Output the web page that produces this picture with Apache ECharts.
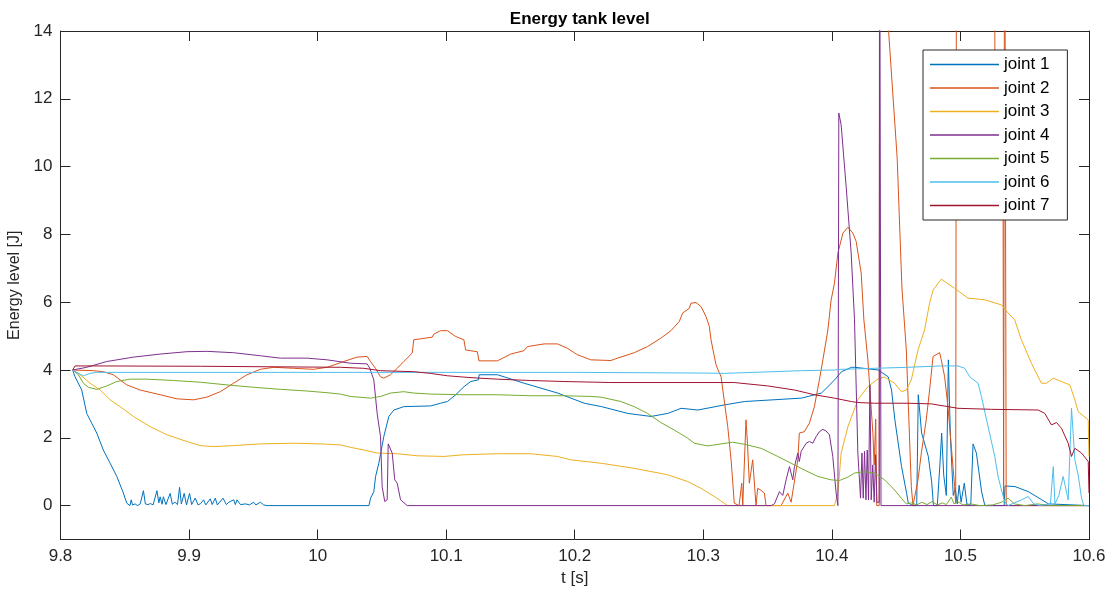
<!DOCTYPE html>
<html>
<head>
<meta charset="utf-8">
<script src="https://cdn.jsdelivr.net/npm/echarts@6/dist/echarts.min.js"></script>
<style>
  html, body { margin: 0; padding: 0; background: #ffffff; }
  #chart { width: 1112px; height: 590px; }
</style>
</head>
<body>
<div id="chart"></div>
<script>
// Energy stored in each joint's tank, [time in s, energy in J]
const joint1 = [
  [9.8095,4.0],[9.8113,3.8],[9.8165,3.41],[9.8204,2.72],[9.8243,2.43],[9.8282,2.14],[9.8333,1.64],[9.8386,1.25],[9.8438,0.86],[9.8489,0.37],[9.8516,0.07],
  [9.852,0.02],[9.854,0],[9.855,0.17],[9.856,0.02],[9.858,0.05],[9.860,0],[9.862,0.05],[9.8645,0.44],[9.866,0.05],[9.868,0.03],[9.870,0.06],[9.872,0.02],
  [9.875,0.44],[9.8765,0.08],[9.8775,0.26],[9.879,0.04],[9.880,0.26],[9.882,0.03],[9.8853,0.36],[9.887,0.04],[9.889,0.1],[9.891,0.03],[9.8926,0.54],
  [9.894,0.05],[9.8962,0.36],[9.898,0.02],[9.9004,0.36],[9.902,0.03],[9.9048,0.22],[9.907,0.02],[9.909,0.06],[9.9113,0.17],[9.913,0.02],[9.9165,0.2],
  [9.918,0.03],[9.9204,0.22],[9.922,0.02],[9.9264,0.22],[9.929,0.03],[9.931,0.1],[9.9347,0.17],[9.936,0.03],[9.9373,0.17],[9.940,0.03],[9.944,0.05],
  [9.947,0.02],[9.9502,0.1],[9.952,0.02],[9.9555,0.1],[9.958,0.02],[9.9607,0],[10.0399,0],
  [10.0412,0.22],[10.0437,0.41],[10.0451,0.86],[10.0476,1.25],[10.0515,2.04],[10.0554,2.63],[10.0593,2.82],[10.0671,2.92],[10.0879,2.94],[10.0957,3.02],
  [10.1009,3.07],[10.1074,3.27],[10.1139,3.51],[10.1191,3.66],[10.1251,3.71],[10.1256,3.86],[10.1399,3.86],[10.1606,3.61],[10.1867,3.32],[10.2074,3.02],
  [10.2208,2.92],[10.2412,2.72],[10.2593,2.63],[10.2724,2.72],[10.2827,2.87],[10.2958,2.82],[10.3165,2.97],[10.3321,3.07],[10.3763,3.17],[10.3919,3.32],
  [10.4022,3.71],[10.4075,3.95],[10.4153,4.08],[10.4178,4.08],[10.4360,4.0],[10.4438,3.8],[10.4464,3.41],[10.4490,2.53],[10.4542,1.15],[10.4581,0.37],
  [10.4594,0.08],[10.4630,0],[10.4660,0],[10.4672,3.27],[10.4698,2.14],[10.4750,1.45],[10.4776,0.71],[10.4790,0],[10.4820,0],[10.4840,1.2],[10.4854,2.14],
  [10.4870,0.9],[10.4890,0.3],[10.4906,4.3],[10.4922,2.04],[10.4944,0.3],[10.4960,0.5],[10.4975,0.05],[10.4990,0.6],[10.5005,0.1],[10.5030,0.66],
  [10.5050,0.05],[10.5080,0],[10.5098,1.82],[10.5124,1.55],[10.5165,0.4],[10.5190,0],[10.5340,0],[10.5347,0.58],[10.5425,0.56],[10.5529,0.41],
  [10.5633,0.17],[10.5685,0.05],[10.6,0]
];
const joint2 = [
  [9.8095,4.0],[9.8256,3.98],[9.8333,3.95],[9.8411,3.86],[9.8516,3.56],[9.8619,3.41],[9.8775,3.27],[9.8905,3.15],[9.9035,3.12],[9.9139,3.2],[9.9243,3.36],
  [9.9346,3.61],[9.9451,3.86],[9.9554,4.02],[9.9658,4.08],[9.9814,4.05],[9.9969,4.02],[10.0074,4.08],[10.0203,4.25],[10.0307,4.38],[10.0385,4.4],
  [10.0411,4.25],[10.0450,4.05],[10.0489,3.8],[10.0515,3.76],[10.0567,3.86],[10.0619,4.05],[10.0670,4.25],[10.0736,4.5],[10.0748,4.89],[10.0892,4.97],
  [10.0904,5.06],[10.0956,5.16],[10.1009,5.16],[10.1073,4.99],[10.1138,4.89],[10.1151,4.59],[10.1242,4.54],[10.1255,4.27],[10.1398,4.27],[10.1502,4.47],
  [10.1605,4.57],[10.1632,4.69],[10.1761,4.77],[10.1865,4.77],[10.1943,4.64],[10.2021,4.45],[10.2125,4.3],[10.2281,4.28],[10.2333,4.35],[10.2462,4.51],
  [10.2566,4.69],[10.2670,4.94],[10.2748,5.16],[10.2813,5.43],[10.2839,5.68],[10.2891,5.82],[10.2904,5.97],[10.2943,5.99],[10.2982,5.87],[10.3021,5.58],
  [10.3047,5.28],[10.3060,4.89],[10.3099,4.15],[10.3138,3.8],[10.3190,2.33],[10.3216,1.35],[10.3241,0.07],[10.3278,0],[10.3299,0.66],[10.3307,0],
  [10.3332,2.53],[10.3344,1.8],[10.3358,0.66],[10.3384,1.35],[10.3410,0],[10.3423,0.51],[10.3449,0.45],[10.3475,0.37],[10.3488,0],[10.3605,0],
  [10.3657,0.37],[10.3683,0.1],[10.3735,1.35],[10.3747,2.14],[10.3786,2.18],[10.3825,2.43],[10.3864,2.92],[10.3903,3.71],[10.3930,4.3],[10.3969,5.18],
  [10.3994,6.06],[10.4020,6.56],[10.4047,7.45],[10.4086,8.04],[10.4125,8.21],[10.4163,8.04],[10.4189,7.79],[10.4228,6.86],[10.4249,5.48],[10.4280,4.3],
  [10.4319,2.14],[10.4329,1.2],[10.4341,2.55],[10.4349,0],[10.4368,0],[10.4372,20],[10.4431,20],[10.4441,14],[10.4508,10.25],[10.4545,6.42],
  [10.4579,4.59],[10.4618,0.56],[10.4631,0],[10.4670,0.76],[10.4696,1.55],[10.4734,2.53],[10.4760,3.41],[10.4787,4.4],[10.4838,4.51],[10.4851,4.3],
  [10.4877,3.8],[10.4903,2.92],[10.4942,1.15],[10.4955,0.56],[10.4963,0.07],[10.4970,20],[10.5264,20],[10.5268,13.3],[10.5332,8.4],[10.5336,0.2],
  [10.5341,0.2],[10.5344,20],[10.5350,20],[10.5356,0],[10.6,0]
];
const joint3 = [
  [9.8095,4.0],[9.8152,3.86],[9.8230,3.61],[9.8308,3.41],[9.8386,3.12],[9.8464,2.92],[9.8567,2.63],[9.8697,2.33],[9.8827,2.09],[9.8983,1.89],[9.9087,1.77],
  [9.9190,1.74],[9.9346,1.77],[9.9554,1.82],[9.9814,1.84],[10.0022,1.82],[10.0177,1.79],[10.0255,1.72],[10.0359,1.64],[10.0463,1.55],[10.0619,1.53],
  [10.0775,1.47],[10.0982,1.45],[10.1138,1.50],[10.1398,1.53],[10.1657,1.53],[10.1865,1.45],[10.1969,1.35],[10.2203,1.25],[10.2462,1.10],[10.2722,0.91],
  [10.2878,0.71],[10.2982,0.51],[10.3085,0.27],[10.3163,0.07],[10.3190,0],[10.4020,0],[10.4047,0.37],[10.4072,1.55],[10.4125,2.33],[10.4202,3.12],
  [10.4280,3.51],[10.4358,3.74],[10.4410,3.79],[10.4488,3.61],[10.4540,3.36],[10.4579,3.41],[10.4618,3.71],[10.4670,4.59],[10.4721,5.18],[10.4760,5.97],
  [10.4787,6.36],[10.4851,6.68],[10.4955,6.41],[10.5059,6.12],[10.5189,6.07],[10.5319,5.92],[10.5371,5.68],[10.5422,5.48],[10.5474,4.89],[10.5552,4.2],
  [10.5630,3.61],[10.5669,3.61],[10.5722,3.76],[10.5786,3.66],[10.5851,3.56],[10.5890,3.12],[10.5916,2.77],[10.5994,2.53],[10.6,1.45]
];
const joint4 = [
  [9.8095,4.0],[9.8204,4.08],[9.8360,4.25],[9.8567,4.38],[9.8775,4.47],[9.8983,4.54],[9.9139,4.55],[9.9346,4.51],[9.9554,4.42],[9.9710,4.35],[9.9918,4.35],
  [10.0074,4.3],[10.0255,4.2],[10.0385,4.18],[10.0406,4.05],[10.0437,3.71],[10.0463,2.72],[10.0489,2.04],[10.0502,0.56],[10.0522,0.12],[10.0541,0.17],
  [10.0549,1.82],[10.0580,1.55],[10.0600,0.76],[10.0619,0.66],[10.0645,0.17],[10.0697,0],[10.3527,0],[10.3553,0.05],[10.3592,0.41],[10.3618,0.3],
  [10.3644,0.76],[10.3670,1.15],[10.3696,0.76],[10.3709,1.15],[10.3735,1.55],[10.3747,1.3],[10.3761,1.6],[10.3800,1.84],[10.3825,1.89],[10.3852,1.84],
  [10.3878,2.04],[10.3903,2.18],[10.3930,2.25],[10.3955,2.2],[10.3981,2.09],[10.4007,1.45],[10.4033,0.37],[10.4047,0],[10.4051,0],[10.4054,11.58],
  [10.4072,11.23],[10.4111,9.41],[10.4150,7.45],[10.4176,5.48],[10.4202,1.55],[10.4223,0.22],[10.4234,1.55],[10.4244,0.22],[10.4254,1.6],[10.4265,0.17],
  [10.4275,1.64],[10.4285,0.17],[10.4296,3.56],[10.4306,0.17],[10.4318,1.2],[10.4329,0.1],[10.4340,1.5],[10.4350,0.1],[10.4368,0.1],[10.4371,20],
  [10.4378,20],[10.4382,0],[10.6,0]
];
const joint5 = [
  [9.8095,4.0],[9.8139,3.86],[9.8178,3.61],[9.8217,3.49],[9.8282,3.43],[9.8360,3.53],[9.8438,3.66],[9.8541,3.73],[9.8671,3.73],[9.8879,3.69],[9.9087,3.64],
  [9.9295,3.56],[9.9502,3.49],[9.9710,3.43],[9.9918,3.38],[10.0074,3.33],[10.0177,3.29],[10.0255,3.22],[10.0411,3.17],[10.0489,3.22],[10.0567,3.32],
  [10.0670,3.36],[10.0748,3.32],[10.0878,3.29],[10.1138,3.27],[10.1398,3.27],[10.1657,3.24],[10.1917,3.24],[10.2125,3.22],[10.2203,3.2],[10.2359,3.07],
  [10.2462,2.92],[10.2566,2.72],[10.2670,2.45],[10.2774,2.23],[10.2878,1.99],[10.2930,1.84],[10.3034,1.76],[10.3138,1.82],[10.3229,1.87],[10.3319,1.81],
  [10.3449,1.69],[10.3579,1.45],[10.3683,1.25],[10.3786,1.05],[10.3891,0.86],[10.3994,0.76],[10.4059,0.74],[10.4125,0.84],[10.4176,0.96],[10.4254,1.0],
  [10.4332,0.96],[10.4410,0.76],[10.4488,0.46],[10.4540,0.22],[10.4579,0.05],[10.462,0.08],[10.466,0.02],[10.470,0.1],[10.474,0.03],[10.478,0.12],
  [10.482,0.02],[10.486,0.08],[10.489,0.03],[10.4929,0.25],[10.495,0.05],[10.498,0.12],[10.502,0.02],[10.508,0.05],[10.515,0],[10.525,0.02],[10.532,0.1],
  [10.5371,0.22],[10.542,0.05],[10.55,0],[10.56,0.05],[10.57,0],[10.6,0]
];
const joint6 = [
  [9.8095,4.0],[9.8139,3.9],[9.8178,3.83],[9.8230,3.9],[9.8282,3.93],[10.0,3.93],[10.2,3.93],[10.3,3.91],[10.3165,3.9],[10.3763,3.98],[10.4020,4.0],
  [10.4072,4.02],[10.4332,4.05],[10.4594,4.08],[10.4851,4.12],[10.4981,4.12],[10.5033,4.05],[10.5072,3.8],[10.5137,3.61],[10.5163,3.22],[10.5215,2.33],
  [10.5267,1.45],[10.5293,0.86],[10.5319,0.46],[10.5344,0.12],[10.5370,0],[10.5475,0.17],[10.5527,0.27],[10.557,0.05],[10.562,0],[10.5700,0.05],
  [10.5722,1.15],[10.5735,0.05],[10.5765,0.3],[10.5799,0.86],[10.5838,0.17],[10.5864,2.87],[10.5890,1.35],[10.5916,0.9],[10.5942,0.22],[10.596,0],[10.6,0]
];
const joint7 = [
  [9.8095,4.0],[9.8113,4.12],[9.8256,4.12],[9.9087,4.11],[10.0177,4.08],[10.0359,4.05],[10.0489,3.98],[10.0748,3.95],[10.0878,3.9],[10.1009,3.83],
  [10.1138,3.79],[10.1255,3.76],[10.1398,3.73],[10.1657,3.69],[10.1917,3.66],[10.2281,3.63],[10.3241,3.63],[10.3501,3.53],[10.3709,3.41],[10.3864,3.27],
  [10.4020,3.17],[10.4150,3.07],[10.4202,3.04],[10.4332,3.02],[10.4592,3.02],[10.4774,3.0],[10.4903,2.92],[10.4981,2.87],[10.5241,2.84],[10.5605,2.82],
  [10.5656,2.72],[10.5708,2.38],[10.5747,2.45],[10.5786,2.28],[10.5838,1.84],[10.5864,1.45],[10.5890,1.69],[10.5942,1.55],[10.5994,1.3],[10.6,0.37]
];

const seriesNames = ['joint 1', 'joint 2', 'joint 3', 'joint 4', 'joint 5', 'joint 6', 'joint 7'];
const seriesData = [joint1, joint2, joint3, joint4, joint5, joint6, joint7];
const lineColors = ['#0072BD', '#D95319', '#EDB120', '#7E2F8E', '#77AC30', '#4DBEEE', '#A2142F'];

const xTicks = [9.8, 9.9, 10.0, 10.1, 10.2, 10.3, 10.4, 10.5, 10.6];
const yTicks = [0, 2, 4, 6, 8, 10, 12, 14];
const xRange = [9.8, 10.6];
const yRange = [-1, 14];

const FONT = '"Liberation Sans", Arial, Helvetica, sans-serif';
const INK = '#262626';

const chart = echarts.init(document.getElementById('chart'), null, { renderer: 'canvas' });

const frameLine = { show: true, onZero: false, lineStyle: { color: INK, width: 1 } };
const innerTick = (vals) => ({ show: true, inside: true, length: 10, customValues: vals, lineStyle: { color: INK, width: 1 } });
const fmt = (v) => String(Math.round(v * 10) / 10);

chart.setOption({
  animation: false,
  backgroundColor: '#ffffff',
  title: {
    text: 'Energy tank level',
    left: 574.75,
    textAlign: 'center',
    top: 6,
    textStyle: { fontFamily: FONT, fontWeight: 'bold', fontSize: 17, color: '#000000' }
  },
  grid: {
    left: 60.5, right: 23, top: 31, bottom: 50.5,
    containLabel: false,
    outerBoundsMode: 'none'
  },
  legend: {
    orient: 'vertical',
    left: 923,
    top: 50,
    icon: 'rect',
    itemWidth: 69,
    itemHeight: 1.5,
    itemGap: 6.5,
    padding: [6, 18, 6, 7],
    backgroundColor: '#ffffff',
    borderColor: INK,
    borderWidth: 1,
    borderRadius: 0,
    textStyle: { fontFamily: FONT, fontSize: 17, lineHeight: 17, color: '#000000' },
    data: seriesNames
  },
  xAxis: [
    {
      type: 'value', position: 'bottom', min: xRange[0], max: xRange[1],
      axisLine: frameLine,
      axisTick: innerTick(xTicks),
      axisLabel: { customValues: xTicks, formatter: fmt, fontFamily: FONT, fontSize: 17, color: INK, margin: 8 },
      splitLine: { show: false },
      name: 't [s]', nameLocation: 'middle', nameGap: 30,
      nameTextStyle: { fontFamily: FONT, fontSize: 17, color: INK }
    },
    {
      type: 'value', position: 'top', min: xRange[0], max: xRange[1],
      axisLine: frameLine,
      axisTick: innerTick(xTicks),
      axisLabel: { show: false },
      splitLine: { show: false }
    }
  ],
  yAxis: [
    {
      type: 'value', position: 'left', min: yRange[0], max: yRange[1],
      axisLine: frameLine,
      axisTick: innerTick(yTicks),
      axisLabel: { customValues: yTicks, fontFamily: FONT, fontSize: 17, color: INK, margin: 8 },
      splitLine: { show: false },
      name: 'Energy level [J]', nameLocation: 'middle', nameGap: 34,
      nameTextStyle: { fontFamily: FONT, fontSize: 16, color: INK }
    },
    {
      type: 'value', position: 'right', min: yRange[0], max: yRange[1],
      axisLine: frameLine,
      axisTick: innerTick(yTicks),
      axisLabel: { show: false },
      splitLine: { show: false }
    }
  ],
  series: seriesNames.map((name, i) => ({
    name: name,
    type: 'line',
    xAxisIndex: 0,
    yAxisIndex: 0,
    data: seriesData[i],
    symbol: 'none',
    clip: true,
    color: lineColors[i],
    lineStyle: { color: lineColors[i], width: 1 },
    itemStyle: { color: lineColors[i] },
    emphasis: { disabled: true }
  }))
});
</script>
</body>
</html>
